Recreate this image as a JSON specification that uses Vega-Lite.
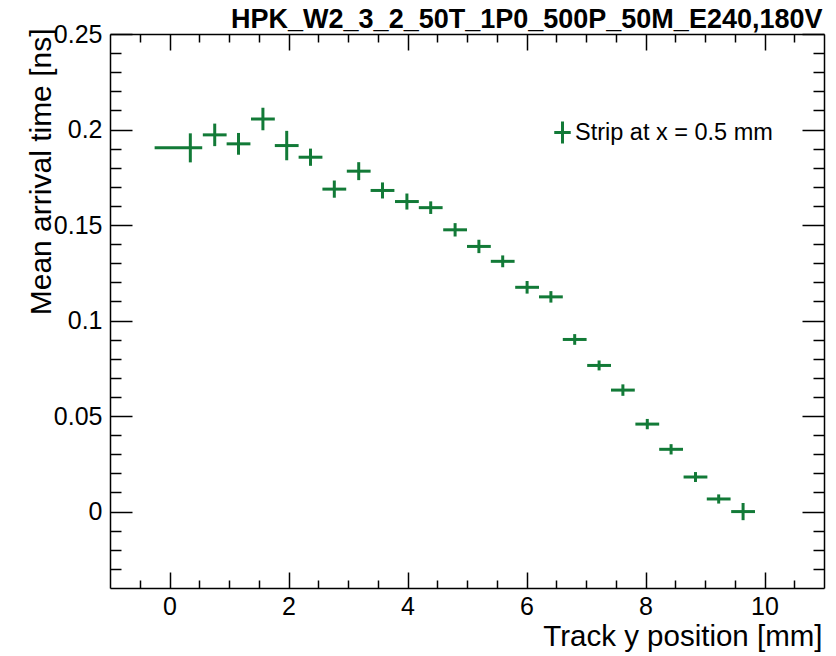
{
  "$schema": "https://vega.github.io/schema/vega-lite/v6.json",
  "width": 714,
  "height": 554,
  "autosize": {"type": "none"},
  "padding": {"left": 110, "top": 34, "right": 12, "bottom": 68},
  "background": "white",
  "config": {"view": {"stroke": null}},
  "data": {"values": [
    {"series": "Strip at x = 0.5 mm", "x": 0.35, "xlo": -0.25, "xhi": 0.55, "y": 0.1904, "ylo": 0.1828, "yhi": 0.1980},
    {"series": "Strip at x = 0.5 mm", "x": 0.76, "xlo": 0.56, "xhi": 0.96, "y": 0.1972, "ylo": 0.1913, "yhi": 0.2031},
    {"series": "Strip at x = 0.5 mm", "x": 1.16, "xlo": 0.96, "xhi": 1.36, "y": 0.1925, "ylo": 0.1868, "yhi": 0.1982},
    {"series": "Strip at x = 0.5 mm", "x": 1.57, "xlo": 1.37, "xhi": 1.77, "y": 0.2055, "ylo": 0.1996, "yhi": 0.2114},
    {"series": "Strip at x = 0.5 mm", "x": 1.97, "xlo": 1.77, "xhi": 2.17, "y": 0.1916, "ylo": 0.1839, "yhi": 0.1993},
    {"series": "Strip at x = 0.5 mm", "x": 2.37, "xlo": 2.17, "xhi": 2.57, "y": 0.1855, "ylo": 0.1810, "yhi": 0.1900},
    {"series": "Strip at x = 0.5 mm", "x": 2.77, "xlo": 2.57, "xhi": 2.97, "y": 0.1688, "ylo": 0.1643, "yhi": 0.1733},
    {"series": "Strip at x = 0.5 mm", "x": 3.18, "xlo": 2.98, "xhi": 3.38, "y": 0.1782, "ylo": 0.1735, "yhi": 0.1829},
    {"series": "Strip at x = 0.5 mm", "x": 3.58, "xlo": 3.38, "xhi": 3.78, "y": 0.1681, "ylo": 0.1639, "yhi": 0.1723},
    {"series": "Strip at x = 0.5 mm", "x": 3.99, "xlo": 3.79, "xhi": 4.19, "y": 0.1623, "ylo": 0.1581, "yhi": 0.1665},
    {"series": "Strip at x = 0.5 mm", "x": 4.39, "xlo": 4.19, "xhi": 4.59, "y": 0.1591, "ylo": 0.1558, "yhi": 0.1624},
    {"series": "Strip at x = 0.5 mm", "x": 4.80, "xlo": 4.60, "xhi": 5.00, "y": 0.1475, "ylo": 0.1440, "yhi": 0.1510},
    {"series": "Strip at x = 0.5 mm", "x": 5.20, "xlo": 5.00, "xhi": 5.40, "y": 0.1388, "ylo": 0.1353, "yhi": 0.1423},
    {"series": "Strip at x = 0.5 mm", "x": 5.60, "xlo": 5.40, "xhi": 5.80, "y": 0.1310, "ylo": 0.1279, "yhi": 0.1341},
    {"series": "Strip at x = 0.5 mm", "x": 6.01, "xlo": 5.81, "xhi": 6.21, "y": 0.1174, "ylo": 0.1141, "yhi": 0.1207},
    {"series": "Strip at x = 0.5 mm", "x": 6.41, "xlo": 6.21, "xhi": 6.61, "y": 0.1124, "ylo": 0.1094, "yhi": 0.1154},
    {"series": "Strip at x = 0.5 mm", "x": 6.81, "xlo": 6.61, "xhi": 7.01, "y": 0.0901, "ylo": 0.0873, "yhi": 0.0929},
    {"series": "Strip at x = 0.5 mm", "x": 7.22, "xlo": 7.02, "xhi": 7.42, "y": 0.0765, "ylo": 0.0739, "yhi": 0.0791},
    {"series": "Strip at x = 0.5 mm", "x": 7.62, "xlo": 7.42, "xhi": 7.82, "y": 0.0636, "ylo": 0.0606, "yhi": 0.0666},
    {"series": "Strip at x = 0.5 mm", "x": 8.03, "xlo": 7.83, "xhi": 8.23, "y": 0.0458, "ylo": 0.0431, "yhi": 0.0485},
    {"series": "Strip at x = 0.5 mm", "x": 8.43, "xlo": 8.23, "xhi": 8.63, "y": 0.0326, "ylo": 0.0299, "yhi": 0.0353},
    {"series": "Strip at x = 0.5 mm", "x": 8.84, "xlo": 8.64, "xhi": 9.04, "y": 0.0181, "ylo": 0.0155, "yhi": 0.0207},
    {"series": "Strip at x = 0.5 mm", "x": 9.23, "xlo": 9.03, "xhi": 9.43, "y": 0.0066, "ylo": 0.0042, "yhi": 0.0090},
    {"series": "Strip at x = 0.5 mm", "x": 9.64, "xlo": 9.44, "xhi": 9.84, "y": 0.0000, "ylo": -0.0045, "yhi": 0.0045}
  ]},
  "layer": [
    {
      "mark": {"type": "rule", "strokeWidth": 3},
      "encoding": {
        "x": {"field": "xlo", "type": "quantitative",
          "scale": {"domain": [-1, 11], "nice": false, "zero": false},
          "axis": {"orient": "bottom", "grid": false,
            "values": [-0.5, 0, 0.5, 1, 1.5, 2, 2.5, 3, 3.5, 4, 4.5, 5, 5.5, 6, 6.5, 7, 7.5, 8, 8.5, 9, 9.5, 10, 10.5],
            "labelExpr": "datum.value % 2 == 0 ? format(datum.value, '~g') : ''",
            "tickSize": {"condition": {"test": "datum.value % 2 == 0", "value": -16}, "value": -8},
            "tickColor": "black", "tickWidth": 1.5, "domainColor": "black", "domainWidth": 1.5,
            "labelFont": "Liberation Sans", "labelFontSize": 25, "labelColor": "black", "labelPadding": 22,
            "labelFlush": false, "labelOverlap": false, "labelBound": false,
            "title": "Track y position [mm]", "titleFont": "Liberation Sans", "titleFontSize": 29.5, "titleFontWeight": "normal", "titleColor": "black",
            "titleX": 712, "titleY": 57, "titleAlign": "right", "titleBaseline": "alphabetic", "titleAnchor": null}},
        "x2": {"field": "xhi"},
        "y": {"field": "y", "type": "quantitative",
          "scale": {"domain": [-0.04, 0.25], "nice": false, "zero": false},
          "axis": {"orient": "left", "grid": false,
            "values": [-0.03, -0.02, -0.01, 0, 0.01, 0.02, 0.03, 0.04, 0.05, 0.06, 0.07, 0.08, 0.09, 0.1, 0.11, 0.12, 0.13, 0.14, 0.15, 0.16, 0.17, 0.18, 0.19, 0.2, 0.21, 0.22, 0.23, 0.24, 0.25],
            "labelExpr": "round(datum.value*100) % 5 == 0 ? format(datum.value, '~g') : ''",
            "tickSize": {"condition": {"test": "round(datum.value*100) % 5 == 0", "value": -22}, "value": -11},
            "tickColor": "black", "tickWidth": 1.5, "domainColor": "black", "domainWidth": 1.5,
            "labelFont": "Liberation Sans", "labelFontSize": 25, "labelColor": "black", "labelPadding": 30,
            "labelFlush": false, "labelOverlap": false, "labelBound": false,
            "title": "Mean arrival time [ns]", "titleFont": "Liberation Sans", "titleFontSize": 30, "titleFontWeight": "normal", "titleColor": "black",
            "titleAngle": 270, "titleX": -60, "titleY": -6, "titleAlign": "right", "titleBaseline": "alphabetic", "titleAnchor": null}},
        "color": {"field": "series", "type": "nominal", "scale": {"range": ["#127a37"]},
          "legend": {"orient": "none", "legendX": 440, "legendY": 86, "title": null, "padding": 0,
            "symbolType": "M-0.75,0H0.75M0,-1V1", "symbolSize": 484, "symbolStrokeWidth": 3, "symbolFillColor": "transparent",
            "labelFont": "Liberation Sans", "labelFontSize": 23.5, "labelColor": "black", "labelOffset": 0, "labelLimit": 400}}
      }
    },
    {
      "mark": {"type": "rule", "strokeWidth": 3},
      "encoding": {
        "x": {"field": "x", "type": "quantitative",
          "axis": {"orient": "top", "grid": false, "labels": false,
            "values": [-0.5, 0, 0.5, 1, 1.5, 2, 2.5, 3, 3.5, 4, 4.5, 5, 5.5, 6, 6.5, 7, 7.5, 8, 8.5, 9, 9.5, 10, 10.5],
            "tickSize": {"condition": {"test": "datum.value % 2 == 0", "value": -16}, "value": -8},
            "tickColor": "black", "tickWidth": 1.5, "domainColor": "black", "domainWidth": 1.5,
            "title": "HPK_W2_3_2_50T_1P0_500P_50M_E240,180V", "titleFont": "Liberation Sans", "titleFontSize": 27, "titleFontWeight": "bold", "titleColor": "black",
            "titleX": 712, "titleY": -7, "titleAlign": "right", "titleBaseline": "alphabetic", "titleAnchor": null}},
        "y": {"field": "ylo", "type": "quantitative",
          "axis": {"orient": "right", "grid": false, "labels": false, "title": null,
            "values": [-0.03, -0.02, -0.01, 0, 0.01, 0.02, 0.03, 0.04, 0.05, 0.06, 0.07, 0.08, 0.09, 0.1, 0.11, 0.12, 0.13, 0.14, 0.15, 0.16, 0.17, 0.18, 0.19, 0.2, 0.21, 0.22, 0.23, 0.24, 0.25],
            "tickSize": {"condition": {"test": "round(datum.value*100) % 5 == 0", "value": -22}, "value": -11},
            "tickColor": "black", "tickWidth": 1.5, "domainColor": "black", "domainWidth": 1.5}},
        "y2": {"field": "yhi"},
        "color": {"field": "series", "type": "nominal", "legend": null}
      }
    }
  ],
  "resolve": {"axis": {"x": "independent", "y": "independent"}}
}
